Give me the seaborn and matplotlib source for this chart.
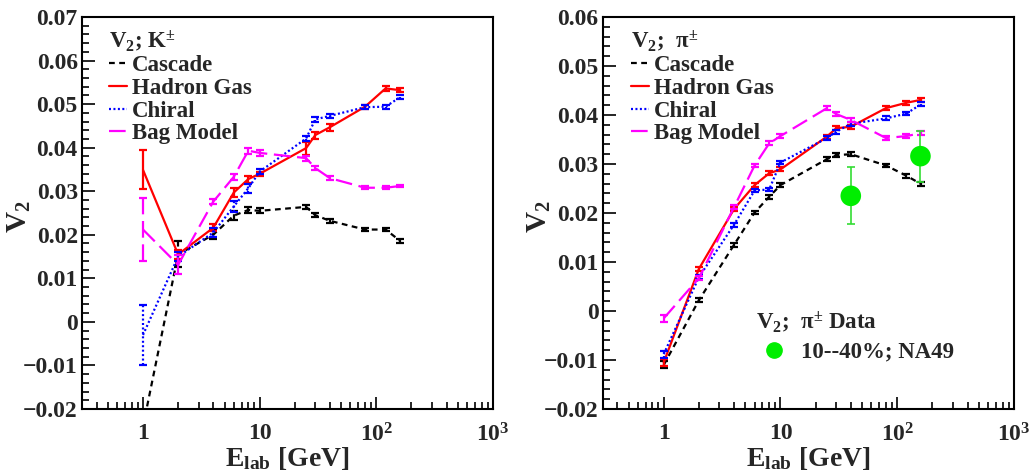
import matplotlib
matplotlib.use("Agg")
import matplotlib.pyplot as plt
import seaborn as sns
from matplotlib.lines import Line2D
from matplotlib.ticker import FixedLocator, FixedFormatter, LogLocator, MultipleLocator, NullFormatter

# Beam energies (GeV)
energy = [1, 2, 4, 6, 8, 10, 25, 30, 40, 80, 120, 160]

# Kaon elliptic flow v2 for each equation of state
kaon_cascade = [-0.024, 0.0155, 0.0200, 0.0244, 0.0257, 0.0255, 0.0264, 0.0245, 0.0232, 0.0212, 0.0212, 0.0186]
kaon_cascade_err = [0.001, 0.003, 0.0010, 0.0010, 0.0006, 0.0006, 0.0005, 0.0005, 0.0005, 0.0004, 0.0004, 0.0005]
kaon_hadron = [0.0349, 0.0155, 0.0216, 0.0297, 0.0328, 0.0340, 0.0399, 0.0429, 0.0447, 0.0494, 0.0536, 0.0532]
kaon_hadron_err = [0.0045, 0.0010, 0.0008, 0.0010, 0.0008, 0.0005, 0.0015, 0.0008, 0.0008, 0.0005, 0.0005, 0.0005]
kaon_chiral = [-0.003, 0.0150, 0.0205, 0.0265, 0.0307, 0.0345, 0.0421, 0.0465, 0.0473, 0.0493, 0.0494, 0.0516]
kaon_chiral_err = [0.0069, 0.0010, 0.0010, 0.0012, 0.0010, 0.0005, 0.0006, 0.0005, 0.0005, 0.0004, 0.0005, 0.0005]
kaon_bag = [0.0212, 0.0131, 0.0276, 0.0333, 0.0393, 0.0388, 0.0376, 0.0353, 0.0330, 0.0308, 0.0308, 0.0312]
kaon_bag_err = [0.0072, 0.0022, 0.0005, 0.0007, 0.0007, 0.0007, 0.0006, 0.0005, 0.0004, 0.0004, 0.0003, 0.0003]

# Pion elliptic flow v2 for each equation of state
pion_cascade = [-0.0110, 0.0022, 0.0135, 0.0201, 0.0233, 0.0257, 0.0310, 0.0318, 0.0320, 0.0297, 0.0276, 0.0259]
pion_hadron = [-0.0105, 0.0086, 0.0208, 0.0257, 0.0281, 0.0289, 0.0356, 0.0373, 0.0376, 0.0414, 0.0425, 0.0431]
pion_chiral = [-0.0088, 0.0069, 0.0176, 0.0246, 0.0248, 0.0303, 0.0353, 0.0366, 0.0382, 0.0393, 0.0403, 0.0422]
pion_bag = [-0.0015, 0.0067, 0.0212, 0.0297, 0.0342, 0.0357, 0.0414, 0.0402, 0.0390, 0.0353, 0.0357, 0.0363]
pion_err = [0.0007, 0.0004, 0.0004, 0.0004, 0.0004, 0.0004, 0.0004, 0.0004, 0.0004, 0.0004, 0.0004, 0.0004]

# NA49 pion measurement, 10-40% centrality
na49_energy = [40, 158]
na49_v2 = [0.0235, 0.0316]
na49_err = [0.0058, 0.0052]

model_names = ["Cascade", "Hadron Gas", "Chiral", "Bag Model"]
xtick_values = [1, 10, 100, 1000]
xtick_labels = ["1", "10", "10$^{2}$", "10$^{3}$"]
kaon_yticks = [-0.02, -0.01, 0, 0.01, 0.02, 0.03, 0.04, 0.05, 0.06, 0.07]
kaon_ylabels = ["\u22120.02", "\u22120.01", "0", "0.01", "0.02", "0.03", "0.04", "0.05", "0.06", "0.07"]
pion_yticks = [-0.02, -0.01, 0, 0.01, 0.02, 0.03, 0.04, 0.05, 0.06]
pion_ylabels = ["\u22120.02", "\u22120.01", "0", "0.01", "0.02", "0.03", "0.04", "0.05", "0.06"]

sns.set_theme(style="ticks")
plt.rcParams["font.family"] = ["Liberation Serif", "DejaVu Serif"]
plt.rcParams["font.weight"] = "bold"
plt.rcParams["mathtext.fontset"] = "custom"
plt.rcParams["mathtext.rm"] = "Liberation Serif:bold"
plt.rcParams["mathtext.bf"] = "Liberation Serif:bold"
plt.rcParams["mathtext.it"] = "Liberation Serif:bold"
plt.rcParams["mathtext.fallback"] = "stix"

styles = [
    dict(color="black", linestyle=(0, (2.6, 2.0))),
    dict(color="#ff0000", linestyle="-"),
    dict(color="#0000ff", linestyle=(0, (0.9, 1.1))),
    dict(color="#ff00ff", linestyle=(0, (7.5, 3.0))),
]
LW = 1.6
TICK_FS = 17
LEG_FS = 16.5
LABEL_FS = 20

W, H = 1031, 472
fig = plt.figure(figsize=(W / 100, H / 100), dpi=100)
axL = fig.add_axes([82 / W, 1 - 409 / H, 411 / W, 392 / H])
axR = fig.add_axes([602.7 / W, 1 - 409 / H, 411.3 / W, 392 / H])


def draw_series(ax, values, errors, style):
    eb = ax.errorbar(energy, values, yerr=errors, fmt="none", ecolor=style["color"],
                     elinewidth=1.6, capsize=2.6, capthick=1.6, zorder=3)
    for coll in eb[2]:
        coll.set_linestyle(style["linestyle"])
    sns.lineplot(x=energy, y=values, ax=ax, color=style["color"],
                 linestyle=style["linestyle"], linewidth=LW, legend=False, zorder=3)


def style_axes(ax, yticks, ylabels, ylim):
    ax.set_xscale("log")
    ax.set_xlim(0.3, 1000)
    ax.set_ylim(*ylim)
    ax.xaxis.set_major_locator(FixedLocator(xtick_values))
    ax.xaxis.set_major_formatter(FixedFormatter(xtick_labels))
    ax.xaxis.set_minor_locator(LogLocator(base=10, subs=range(2, 10), numticks=20))
    ax.xaxis.set_minor_formatter(NullFormatter())
    ax.yaxis.set_major_locator(FixedLocator(yticks))
    ax.yaxis.set_major_formatter(FixedFormatter(ylabels))
    ax.yaxis.set_minor_locator(MultipleLocator(0.002))
    ax.tick_params(which="both", direction="in", top=False, right=False, width=1.2, color="black")
    ax.tick_params(which="major", length=9)
    ax.tick_params(which="minor", length=5)
    ax.tick_params(axis="x", which="major", pad=10, labelsize=TICK_FS)
    ax.tick_params(axis="y", which="major", pad=3, labelsize=TICK_FS)
    for lab in ax.get_xticklabels() + ax.get_yticklabels():
        lab.set_fontweight("bold")
    for sp in ax.spines.values():
        sp.set_linewidth(1.5)
        sp.set_color("black")
    ax.set_xlabel("E$_{\\mathregular{lab}}$ [GeV]", fontsize=LABEL_FS, fontweight="bold")
    ax.xaxis.set_label_coords(0.5, -0.093)
    ax.set_ylabel("V$_{2}$", fontsize=LABEL_FS + 1, fontweight="bold")
    ax.yaxis.set_label_coords(-0.12, 0.49)
    ax.grid(False)


def model_legend(ax, title, x_px):
    handles = [Line2D([], [], color=s["color"], linestyle=s["linestyle"], linewidth=LW) for s in styles]
    leg = ax.legend(handles, model_names, title=title, loc="upper left",
                    bbox_to_anchor=(x_px / W, 1 - 28 / H), bbox_transform=fig.transFigure,
                    frameon=False, borderpad=0, borderaxespad=0, handlelength=0.8,
                    handletextpad=0.2, labelspacing=0.07, alignment="left",
                    prop=dict(size=LEG_FS, weight="bold"),
                    title_fontproperties=dict(size=LEG_FS, weight="bold"))
    return leg


# Kaons
for vals, errs, st in zip([kaon_cascade, kaon_hadron, kaon_chiral, kaon_bag],
                          [kaon_cascade_err, kaon_hadron_err, kaon_chiral_err, kaon_bag_err], styles):
    draw_series(axL, vals, errs, st)
style_axes(axL, kaon_yticks, kaon_ylabels, (-0.02, 0.07))
model_legend(axL, "V$_{2}$; K$^{\\pm}$", 109)

# Pions
for vals, st in zip([pion_cascade, pion_hadron, pion_chiral, pion_bag], styles):
    draw_series(axR, vals, pion_err, st)
axR.errorbar(na49_energy, na49_v2, yerr=na49_err, fmt="none", ecolor="#33dd33",
             elinewidth=1.2, capsize=3, capthick=1.2, zorder=4)
sns.scatterplot(x=na49_energy, y=na49_v2, ax=axR, color="#00ee00", s=220,
                edgecolor="none", legend=False, zorder=5)
style_axes(axR, pion_yticks, pion_ylabels, (-0.02, 0.06))
leg_models = model_legend(axR, "V$_{2}$;  \u03c0$^{\\pm}$", 631)
axR.add_artist(leg_models)

data_handle = Line2D([], [], color="#00ee00", marker="o", markersize=11, linestyle="none")
axR.legend([data_handle], ["10--40%; NA49"], title="V$_{2}$;  \u03c0$^{\\pm}$ Data",
           loc="upper left", bbox_to_anchor=(756 / W, 1 - 309 / H), bbox_transform=fig.transFigure,
           frameon=False, borderpad=0, borderaxespad=0, handlelength=1.6,
           handletextpad=0.35, labelspacing=0.3, alignment="left",
           prop=dict(size=LEG_FS, weight="bold"),
           title_fontproperties=dict(size=LEG_FS, weight="bold"))

fig.savefig("out.png", dpi=100)
